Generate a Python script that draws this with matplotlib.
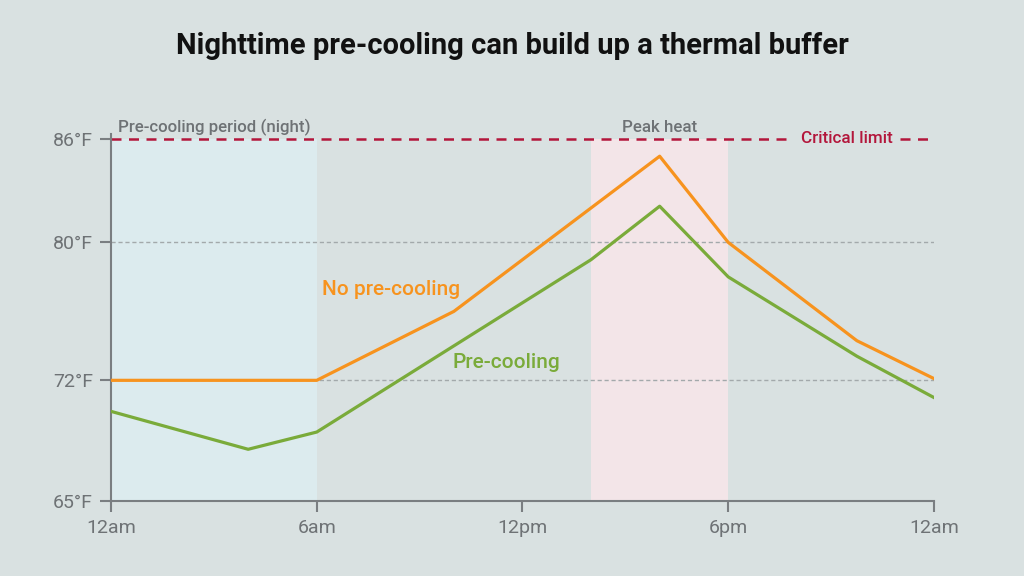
import matplotlib.pyplot as plt

# hours since midnight
hours_no = [0, 6, 10, 14, 16, 18, 21.75, 24]
temp_no = [72, 72, 76, 82, 85, 80, 74.3, 72.1]
hours_pre = [0, 4, 6, 10, 14, 16, 18, 21.75, 24]
temp_pre = [70.2, 68, 69, 74, 79, 82.1, 78, 73.4, 71]

xticks = [0, 6, 12, 18, 24]
xlabels = ["12am", "6am", "12pm", "6pm", "12am"]
yticks = [65, 72, 80, 86]
ylabels = ["65°F", "72°F", "80°F", "86°F"]
critical = 86
night = (0, 6)
peak = (14, 18)

bg = "#d9e1e1"
gray = "#6e7275"
orange = "#f7931e"
green = "#7aab3a"
red = "#b3163b"

plt.rcParams["font.family"] = ["Roboto", "DejaVu Sans"]

fig = plt.figure(figsize=(10.24, 5.76), dpi=100, facecolor=bg)
ax = fig.add_axes([0.1084, 0.1302, 0.8037, 0.6375])
ax.set_facecolor(bg)

ax.fill_between(night, 65, critical, color="#dcebee", zorder=0, lw=0)
ax.fill_between(peak, 65, critical, color="#f3e5e8", zorder=0, lw=0)

for y in [80, 72]:
    ax.axhline(y, color="#a3a9ab", lw=1, ls=(0, (3, 2)), zorder=1)

ax.plot([0, 19.8], [critical, critical], color=red, lw=1.8, ls=(0, (4, 3)), zorder=2)
ax.plot([23.0, 24], [critical, critical], color=red, lw=1.8, ls=(0, (4, 3)), zorder=2)
ax.text(21.45, critical, "Critical limit", color=red, fontsize=12.3, fontweight="medium",
        ha="center", va="center")

ax.plot(hours_no, temp_no, color=orange, lw=2.3, zorder=3)
ax.plot(hours_pre, temp_pre, color=green, lw=2.3, zorder=3)

ax.text(6.15, 77.24, "No pre-cooling", color=orange, fontsize=15, fontweight="medium",
        ha="left", va="center")
ax.text(9.95, 73.06, "Pre-cooling", color=green, fontsize=15, fontweight="medium",
        ha="left", va="center")

ax.text(0.2, 86.4, "Pre-cooling period (night)", color=gray, fontsize=12.2, fontweight="medium",
        ha="left", va="baseline")
ax.text(16, 86.4, "Peak heat", color=gray, fontsize=12.2, fontweight="medium",
        ha="center", va="baseline")

ax.set_xlim(0, 24)
ax.set_ylim(65, 86.3)
ax.set_xticks(xticks, xlabels)
ax.set_yticks(yticks, ylabels)
ax.tick_params(colors="#7a7e81", labelcolor=gray, labelsize=14, length=8, width=1.5, pad=5)
for s in ["top", "right"]:
    ax.spines[s].set_visible(False)
for s in ["left", "bottom"]:
    ax.spines[s].set_color("#7a7e81")
    ax.spines[s].set_linewidth(1.5)

fig.text(0.5, 0.921, "Nighttime pre-cooling can build up a thermal buffer", ha="center", va="center",
         fontsize=21, fontweight="bold", color="#111111")

fig.savefig("out.png", dpi=100, facecolor=bg)
